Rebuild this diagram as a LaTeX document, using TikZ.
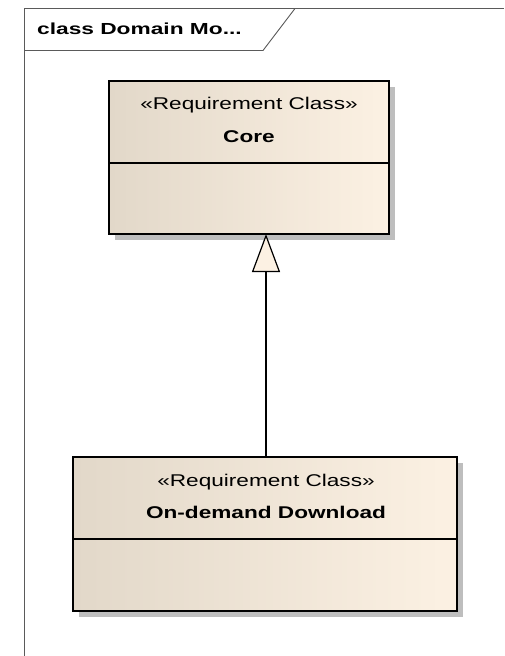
\documentclass[tikz,border=0pt]{standalone}
\usepackage{fontspec}
\setmainfont{Liberation Sans}
\newfontfamily\widefont{Liberation Sans}[FakeStretch=1.33]
\newfontfamily\titlefont{Liberation Sans}[FakeStretch=1.42]
\usetikzlibrary{arrows.meta}
\definecolor{boxL}{RGB}{226,216,201}
\definecolor{boxR}{RGB}{252,241,227}
\definecolor{shadowgray}{RGB}{190,190,190}
\definecolor{framegray}{RGB}{90,90,90}
\tikzset{
  txt/.style={font=\widefont\fontsize{17}{20}\selectfont, inner sep=0pt, anchor=center},
  bold txt/.style={txt, font=\widefont\fontsize{17}{20}\selectfont\bfseries},
  classbox/.style={draw=black, line width=1.4pt, left color=boxL, right color=boxR, shading angle=90},
  shadowbox/.style={fill=shadowgray, draw=none},
  framestyle/.style={draw=framegray, line width=0.9pt},
}
\begin{document}
\begin{tikzpicture}[x=1pt,y=-1pt]
\useasboundingbox (0,0) rectangle (504,656);
\fill[white] (0,0) rectangle (504,656);

% diagram frame and name tab
\draw[framestyle] (24.5,656) -- (24.5,8.5) -- (504,8.5);
\draw[framestyle] (24.5,50.5) -- (263,50.5) -- (295,8.5);
\node[inner sep=0pt, font=\titlefont\fontsize{16}{19}\selectfont\bfseries, anchor=west] (title) at (37,29) {class Domain Mo...};

% Core class
\fill[shadowbox] (115,87) rectangle (395,240);
\path[classbox] (109,81) rectangle (389,234);
\coordinate (coreBot) at (266,234);
\draw[line width=1.2pt] (109,163) -- (389,163);
\node[txt] (coreSt) at (249,105) {«Requirement Class»};
\node[bold txt] (coreName) at (249,137) {Core};

% On-demand Download class
\fill[shadowbox] (79,463) rectangle (463,617);
\path[classbox] (73,457) rectangle (457,611);
\coordinate (odTop) at (266,457);
\draw[line width=1.2pt] (73,539) -- (457,539);
\node[txt] (odSt) at (266,482) {«Requirement Class»};
\node[bold txt] (odName) at (266,512) {On-demand Download};

% generalization
\draw[line width=1.2pt, -{Triangle[open, fill=boxR, length=38pt, width=28pt, line width=1.2pt]}] (odTop) -- (coreBot);
\end{tikzpicture}
\end{document}
